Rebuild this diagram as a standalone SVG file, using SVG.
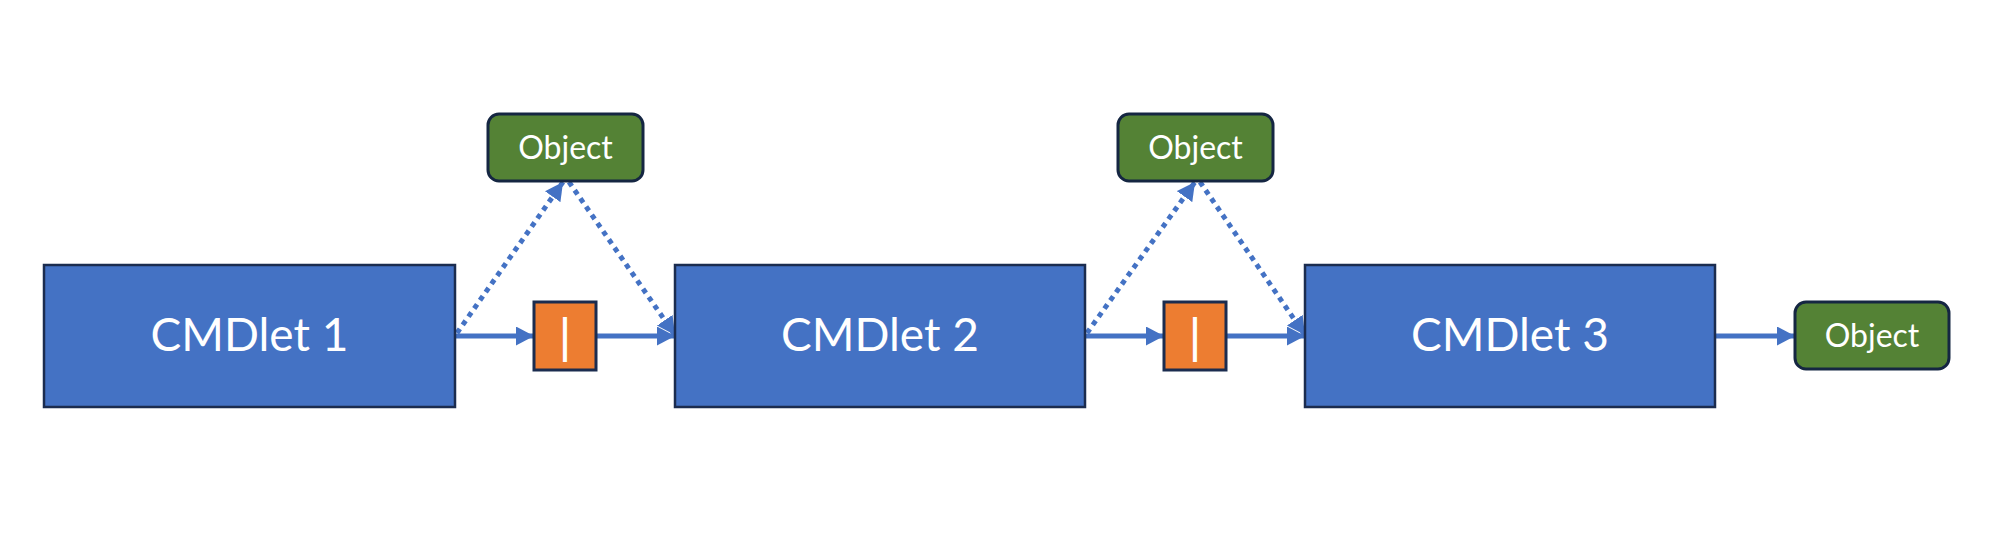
<svg xmlns="http://www.w3.org/2000/svg" width="2000" height="537" viewBox="0 0 2000 537">
<style>
.cmd{fill:#4472C4;stroke:#1B2C4F;stroke-width:2.5}
.obj{fill:#548235;stroke:#152642;stroke-width:3}
.pipe{fill:#ED7D31;stroke:#1B2C4F;stroke-width:3}
.big{font-family:Lato,"Open Sans",sans-serif;font-size:46px;fill:#FFFFFF;text-anchor:middle}
.small{font-family:Lato,"Open Sans",sans-serif;font-size:32px;fill:#FFFFFF;text-anchor:middle}
.bar{font-family:"Liberation Sans",Arial,sans-serif;font-size:48px;fill:#FFFFFF;text-anchor:middle}
.solid{stroke:#4472C4;stroke-width:5;fill:none}
.dot{stroke:#4472C4;stroke-width:5;fill:none;stroke-dasharray:5 5}
</style>
<defs>
<marker id="ah" markerUnits="userSpaceOnUse" markerWidth="20" markerHeight="20" refX="18" refY="9.5" orient="auto" viewBox="0 0 20 20">
<path d="M0,0 L18,9.5 L0,19 Z" fill="#4472C4"/>
</marker>
</defs>
<rect width="2000" height="537" fill="#FFFFFF"/>
<g id="connectors">
<line class="solid" x1="455" y1="336" x2="534" y2="336" marker-end="url(#ah)"/>
<line class="solid" x1="596" y1="336" x2="675" y2="336" marker-end="url(#ah)"/>
<line class="solid" x1="1085" y1="336" x2="1164" y2="336" marker-end="url(#ah)"/>
<line class="solid" x1="1226" y1="336" x2="1305" y2="336" marker-end="url(#ah)"/>
<line class="solid" x1="1715" y1="336" x2="1795" y2="336" marker-end="url(#ah)"/>
<line class="dot" x1="457" y1="333" x2="563" y2="182" marker-end="url(#ah)"/>
<line class="dot" x1="569" y1="182" x2="675" y2="335" marker-end="url(#ah)"/>
<line class="dot" x1="1087" y1="333" x2="1195" y2="182" marker-end="url(#ah)"/>
<line class="dot" x1="1200" y1="182" x2="1305" y2="335" marker-end="url(#ah)"/>
</g>
<g id="cmdlet1">
<rect class="cmd" x="44" y="265" width="411" height="142"/>
<text class="big" x="249.5" y="351">CMDlet 1</text>
</g>
<g id="cmdlet2">
<rect class="cmd" x="675" y="265" width="410" height="142"/>
<text class="big" x="880" y="351">CMDlet 2</text>
</g>
<g id="cmdlet3">
<rect class="cmd" x="1305" y="265" width="410" height="142"/>
<text class="big" x="1510" y="351">CMDlet 3</text>
</g>
<g id="pipe1">
<rect class="pipe" x="534" y="302" width="62" height="68"/>
<text class="bar" x="565" y="352">|</text>
</g>
<g id="pipe2">
<rect class="pipe" x="1164" y="302" width="62" height="68"/>
<text class="bar" x="1195" y="352">|</text>
</g>
<g id="object1">
<rect class="obj" x="488" y="114" width="155" height="67" rx="11"/>
<text class="small" x="565.5" y="159">Object</text>
</g>
<g id="object2">
<rect class="obj" x="1118" y="114" width="155" height="67" rx="11"/>
<text class="small" x="1195.5" y="159">Object</text>
</g>
<g id="object3">
<rect class="obj" x="1795" y="302" width="154" height="67" rx="11"/>
<text class="small" x="1872" y="347">Object</text>
</g>
</svg>
